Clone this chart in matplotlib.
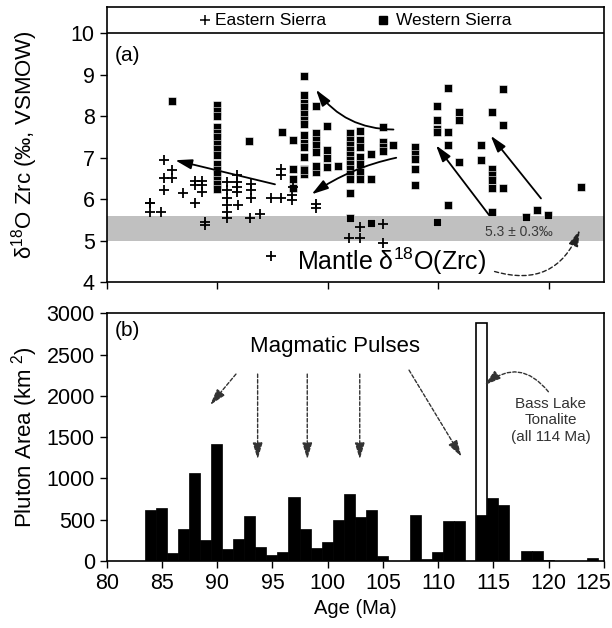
import matplotlib
matplotlib.use("Agg")
import matplotlib.pyplot as plt
from matplotlib.patches import FancyArrowPatch
from matplotlib.transforms import ScaledTranslation

plt.rcParams['font.family'] = ['Liberation Sans', 'DejaVu Sans']
plt.rcParams['mathtext.fontset'] = 'custom'
plt.rcParams['mathtext.rm'] = 'Liberation Sans'
plt.rcParams['mathtext.it'] = 'Liberation Sans:italic'
plt.rcParams['mathtext.bf'] = 'Liberation Sans:bold'

# ---------------- data: panel (a) ----------------
east_age = [83.9, 83.9, 84.9, 85.2, 85.9, 85.2, 85.9, 85.2, 86.9, 83.9,
            88.0, 88.0, 88.6, 88.6, 88.6, 88.0, 88.9, 88.9,
            90.9, 90.9, 90.9, 90.9, 90.9, 90.9,
            91.8, 91.8, 91.8, 91.8, 91.9,
            93.1, 93.1, 93.1, 93.0, 93.9, 94.9, 94.9,
            95.8, 95.8, 95.8, 96.8, 96.8, 96.9, 98.9, 98.9,
            101.9, 102.9, 102.9, 105.0, 105.0]
east_d18o = [5.90, 5.70, 5.70, 6.94, 6.70, 6.52, 6.52, 6.22, 6.14, 5.90,
             6.44, 6.34, 6.44, 6.34, 6.18, 5.90, 5.46, 5.38,
             6.42, 6.22, 6.02, 5.86, 5.70, 5.54,
             6.58, 6.42, 6.30, 6.18, 5.86,
             6.36, 6.22, 6.02, 5.54, 5.64, 6.02, 4.64,
             6.74, 6.58, 6.02, 6.10, 5.98, 6.30, 5.88, 5.78,
             5.06, 5.34, 5.06, 5.40, 4.95]

west_age = [85.9] + [89.95] * 15 + [92.9, 95.9, 96.9, 96.9, 96.9, 96.9] + \
           [97.9] * 14 + [98.9] * 7 + [99.9] * 4 + [100.9] + \
           [102.0] * 12 + [102.9] * 7 + [103.9, 103.9, 103.9] + \
           [105.0] * 4 + [105.9] + [107.9] * 5 + [109.9] * 5 + \
           [110.9] * 4 + [111.9, 111.9, 111.9] + [113.9, 113.9] + \
           [114.9] * 6 + [115.9] * 3 + [117.9, 118.9, 119.9, 122.9]
west_d18o = [8.37,
             8.26, 8.12, 8.0, 7.74, 7.6, 7.5, 7.34, 7.2, 7.06, 6.86, 6.7, 6.6, 6.46, 6.36, 6.24,
             7.40, 7.62, 7.42, 6.72, 6.50, 6.28,
             8.96, 8.52, 8.32, 8.22, 8.06, 7.92, 7.82, 7.54, 7.36, 7.25, 7.02, 6.72, 6.62, 6.70,
             8.25, 7.60, 7.42, 7.30, 7.14, 6.66, 6.80,
             7.76, 7.18, 7.00, 6.78,
             6.80,
             7.60, 7.42, 7.30, 7.18, 7.06, 6.94, 6.86, 6.74, 6.62, 6.50, 6.15, 5.54,
             7.64, 7.42, 7.25, 7.02, 6.86, 6.66, 6.50,
             7.10, 6.48, 5.42,
             7.74, 7.38, 7.26, 7.16,
             7.31,
             7.25, 7.10, 6.98, 6.74, 6.34,
             8.24, 7.90, 7.70, 7.62, 5.46,
             8.69, 7.62, 7.30, 5.86,
             8.10, 7.90, 6.90,
             7.30, 6.94,
             8.10, 6.74, 6.58, 6.46, 6.26, 5.70,
             8.66, 7.78, 6.28,
             5.58, 5.74, 5.62, 6.30]

mantle_low, mantle_high = 5.0, 5.6

# ---------------- data: panel (b) ----------------
bar_age = list(range(84, 125))
bar_area = [615, 645, 93, 393, 1062, 254, 1411, 141, 270, 544,
            173, 73, 109, 770, 383, 153, 226, 492, 810, 528,
            617, 56, 0, 0, 560, 20, 113, 484, 488, 0,
            560, 758, 681, 0, 125, 125, 12, 0, 0, 0, 32]
bass_lake_age = 114
bass_lake_total = 2883

# ---------------- figure ----------------
fig = plt.figure(figsize=(6.12, 6.28), dpi=100)
axA = fig.add_axes([0.1743, 0.5505, 0.8126, 0.4379])
axB = fig.add_axes([0.1743, 0.1067, 0.8126, 0.3944])

LW = 1.2
TICK = 15.5

# ---- panel (a)
axA.axhspan(mantle_low, mantle_high, color='#c0c0c0', lw=0, zorder=0)
axA.scatter(west_age, west_d18o, marker='s', s=34, c='black',
            edgecolors='white', linewidths=0.4, zorder=3)
axA.scatter(east_age, east_d18o, marker='+', s=48, c='black',
            linewidths=1.3, zorder=3)
axA.set_xlim(80, 125)
axA.set_ylim(4, 10.625)
axA.set_yticks(range(4, 11))
axA.set_xticks([80, 90, 100, 110, 120])
axA.set_xticklabels([])
axA.axhline(10, color='black', lw=LW, zorder=4)
axA.set_ylabel(r'$\mathregular{\delta^{18}}$O Zrc (‰, VSMOW)', fontsize=16)
axA.yaxis.set_label_coords(-0.135, 0.5)

# legend row
axA.plot([0.198], [0.953], marker='+', ms=7, mew=1.1, color='black',
         transform=axA.transAxes, clip_on=False)
axA.text(0.218, 0.953, 'Eastern Sierra', transform=axA.transAxes,
         fontsize=12.5, va='center', ha='left')
axA.plot([0.556], [0.953], marker='s', ms=5.5, color='black',
         transform=axA.transAxes, clip_on=False)
axA.text(0.582, 0.953, 'Western Sierra', transform=axA.transAxes,
         fontsize=12.5, va='center', ha='left')

axA.text(80.75, 9.46, '(a)', fontsize=15, va='center', ha='left')
axA.text(117.3, 5.22, '5.3 ± 0.3‰', fontsize=10, color='#3a3a3a',
         va='center', ha='center')
axA.text(114.3, 4.5, r'Mantle $\mathregular{\delta^{18}}$O(Zrc)', fontsize=18,
         va='center', ha='right')


def arrow(ax, p0, p1, rad=0.0, ls='-', color='black', lw=1.3):
    a = FancyArrowPatch(p0, p1, connectionstyle=f'arc3,rad={rad}',
                        arrowstyle='-|>,head_length=1.0,head_width=0.3',
                        mutation_scale=10, lw=lw, ls=ls, color=color,
                        shrinkA=0, shrinkB=0, zorder=5)
    ax.add_patch(a)


arrow(axA, (95.23, 6.36), (86.2, 6.94))
arrow(axA, (105.95, 7.68), (98.94, 8.64), rad=-0.25)
arrow(axA, (106.2, 7.0), (98.55, 6.12), rad=0.1)
arrow(axA, (114.6, 5.62), (109.8, 7.3))
arrow(axA, (119.3, 6.02), (114.75, 7.53))
arrow(axA, (115.1, 4.26), (122.8, 5.26), rad=0.45, ls=(0, (3, 2)), lw=1.0,
      color='#222222')

# ---- panel (b)
axB.bar([a - 0.05 for a in bar_age], bar_area, width=1.0,
        color='black', edgecolor='black', lw=0.5, zorder=3)
axB.bar(bass_lake_age - 0.05, bass_lake_total, width=1.0, color='white',
        edgecolor='black', lw=1.2, zorder=2)
axB.set_xlim(80, 125)
axB.set_ylim(0, 3000)
axB.set_xticks(range(80, 126, 5))
axB.set_yticks(range(0, 3001, 500))
axB.set_xlabel('Age (Ma)', fontsize=14.5)
axB.set_ylabel(r'Pluton Area (km$\mathregular{^{\ 2}}$)', fontsize=16)
axB.yaxis.set_label_coords(-0.135, 0.5)

axB.text(80.75, 2797, '(b)', fontsize=15, va='center', ha='left')
axB.text(100.7, 2594, 'Magmatic Pulses', fontsize=16, va='center', ha='center')
axB.text(120.2, 1900, 'Bass Lake', fontsize=11, color='#333333', ha='center', va='center')
axB.text(120.2, 1707, 'Tonalite', fontsize=11, color='#333333', ha='center', va='center')
axB.text(120.2, 1505, '(all 114 Ma)', fontsize=11, color='#333333', ha='center', va='center')

dash = (0, (2.5, 1.5))
arrow(axB, (91.7, 2264), (89.36, 1889), ls=dash, lw=1.0, color='#333333')
arrow(axB, (93.66, 2264), (93.66, 1231), ls=dash, lw=1.0, color='#333333')
arrow(axB, (98.15, 2264), (98.15, 1231), ls=dash, lw=1.0, color='#333333')
arrow(axB, (102.9, 2264), (102.9, 1231), ls=dash, lw=1.0, color='#333333')
arrow(axB, (107.36, 2312), (112.1, 1263), ls=dash, lw=1.0, color='#333333')
arrow(axB, (119.97, 2050), (114.2, 2130), rad=0.5, ls=dash, lw=1.0, color='#333333')

for ax in (axA, axB):
    for s in ax.spines.values():
        s.set_linewidth(LW)
    ax.tick_params(direction='out', length=5, width=1.0, labelsize=TICK,
                   top=False, right=False)

# keep the last tick label inside the figure
lab = axB.get_xticklabels()[-1]
lab.set_ha('right')
lab.set_transform(lab.get_transform() + ScaledTranslation(7 / 100, 0, fig.dpi_scale_trans))

fig.savefig('out.png', dpi=100)
